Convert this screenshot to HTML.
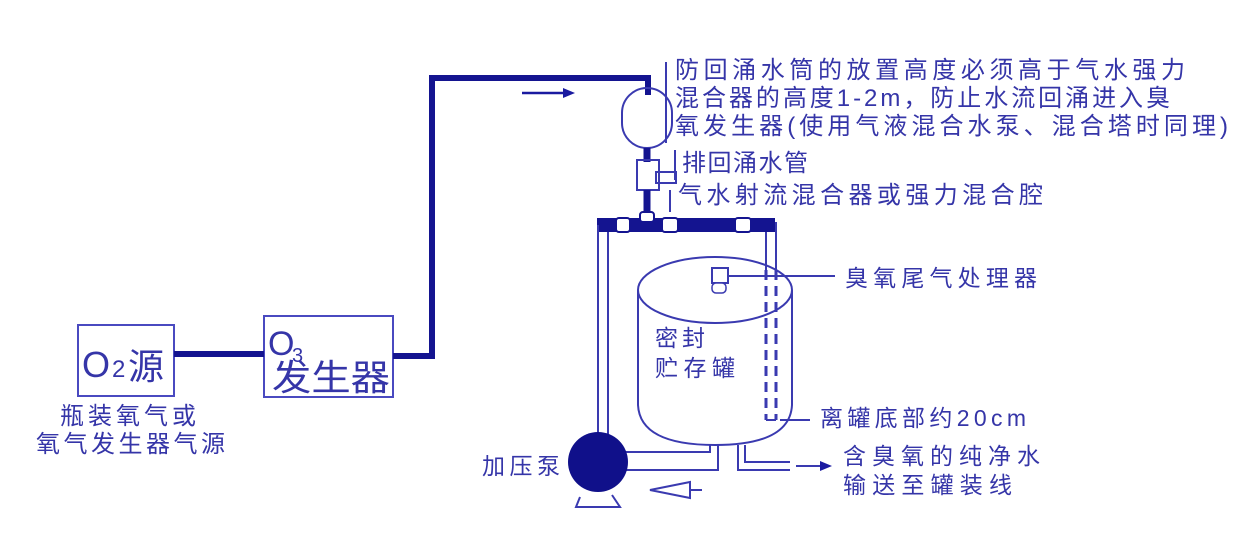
<!DOCTYPE html>
<html><head><meta charset="utf-8"><style>
body{margin:0;background:#fff;}
svg{display:block}
text{font-family:"Liberation Sans","Noto Sans CJK SC",sans-serif;fill:#3535a8;}
</style></head><body>
<svg width="1252" height="539" viewBox="0 0 1252 539" xmlns="http://www.w3.org/2000/svg">
<g fill="none" stroke="#4a4ac0" stroke-width="2">
<rect x="78" y="325" width="96" height="71"/>
<rect x="264" y="316" width="129" height="81"/>
</g>
<g stroke="#141490" stroke-width="6" fill="none">
<line x1="174" y1="354" x2="264" y2="354"/>
<polyline points="393,356 432,356 432,78 648,78 648,95"/>
</g>
<text x="82" y="377" font-size="36">O</text>
<text x="112" y="377" font-size="24">2</text>
<text x="128" y="379" font-size="36">源</text>
<text x="268" y="355" font-size="34">O</text>
<text x="292" y="362" font-size="20">3</text>
<text x="272" y="390" font-size="36" textLength="118" lengthAdjust="spacingAndGlyphs">发生器</text>
<text x="60" y="424" font-size="24" textLength="136" lengthAdjust="spacing">瓶装氧气或</text>
<text x="36" y="452" font-size="24" textLength="189" lengthAdjust="spacing">氧气发生器气源</text>
<line x1="522" y1="93" x2="565" y2="93" stroke="#1a1aa0" stroke-width="2.5"/>
<polygon points="575,93 563,88 563,98" fill="#1a1aa0"/>
<rect x="622" y="88" width="50" height="60" rx="25" ry="25" fill="none" stroke="#3a3ab0" stroke-width="2"/>
<line x1="666" y1="62" x2="666" y2="143" stroke="#3a3ab0" stroke-width="2"/>
<line x1="647" y1="148" x2="647" y2="162" stroke="#141490" stroke-width="7"/>
<rect x="637" y="160" width="22" height="30" fill="none" stroke="#3a3ab0" stroke-width="2"/>
<rect x="656" y="172" width="20" height="11" fill="none" stroke="#3a3ab0" stroke-width="2"/>
<line x1="675" y1="150" x2="675" y2="180" stroke="#3a3ab0" stroke-width="2"/>
<line x1="647" y1="190" x2="647" y2="212" stroke="#141490" stroke-width="7"/>
<line x1="670" y1="190" x2="670" y2="212" stroke="#3a3ab0" stroke-width="2"/>
<rect x="597" y="218" width="178" height="14" fill="#141490"/>
<g fill="#fff" stroke="#141490" stroke-width="2">
<rect x="616" y="218" width="14" height="14" rx="3"/>
<rect x="640" y="212" width="14" height="10" rx="3"/>
<rect x="662" y="218" width="16" height="14" rx="3"/>
<rect x="735" y="218" width="16" height="14" rx="3"/>
</g>
<g stroke="#3a3ab0" stroke-width="2" fill="none">
<line x1="598" y1="225" x2="598" y2="440"/>
<line x1="608" y1="232" x2="608" y2="440"/>
<line x1="766" y1="232" x2="766" y2="270"/>
<line x1="776" y1="222" x2="776" y2="270"/>
<line x1="766" y1="270" x2="766" y2="420" stroke-dasharray="10,6" stroke-width="3"/>
<line x1="776" y1="270" x2="776" y2="420" stroke-dasharray="10,6" stroke-width="3"/>
<polyline points="766,420 776,420"/>
<ellipse cx="715" cy="290" rx="77" ry="33"/>
<path d="M638,290 L638,405 Q640,445 715,445 Q790,445 792,405 L792,290"/>
<rect x="712" y="268" width="16" height="15"/>
<line x1="728" y1="276" x2="835" y2="276"/>
<line x1="780" y1="420" x2="810" y2="420"/>
<polyline points="625,452 710,452 710,445"/>
<polyline points="625,470 718,470 718,445"/>
<polyline points="738,445 738,470 790,470"/>
<polyline points="745,445 745,462 790,462"/>
<polygon points="650,490 690,482 690,498"/>
<line x1="690" y1="490" x2="702" y2="490"/>
<line x1="796" y1="466" x2="822" y2="466"/>
<polyline points="580,497 576,507 620,507 612,495"/>
</g>
<polygon points="832,466 820,461 820,471" fill="#1a1aa0"/>
<circle cx="598" cy="462" r="30" fill="#10108a"/>
<g fill="#fff" stroke="#3a3ab0" stroke-width="1.5"><rect x="712" y="283" width="14" height="10" rx="4"/></g>
<text x="675" y="78" font-size="24" textLength="510" lengthAdjust="spacing">防回涌水筒的放置高度必须高于气水强力</text>
<text x="675" y="106" font-size="24" textLength="495" lengthAdjust="spacing">混合器的高度1-2m，防止水流回涌进入臭</text>
<text x="675" y="134" font-size="24" textLength="553" lengthAdjust="spacing">氧发生器(使用气液混合水泵、混合塔时同理)</text>
<text x="682" y="171" font-size="24" textLength="126" lengthAdjust="spacing">排回涌水管</text>
<text x="678" y="203" font-size="24" textLength="365" lengthAdjust="spacing">气水射流混合器或强力混合腔</text>
<text x="845" y="286" font-size="23" textLength="192" lengthAdjust="spacing">臭氧尾气处理器</text>
<text x="655" y="346" font-size="23" textLength="50" lengthAdjust="spacing">密封</text>
<text x="655" y="376" font-size="23" textLength="80" lengthAdjust="spacing">贮存罐</text>
<text x="820" y="426" font-size="23" textLength="206" lengthAdjust="spacing">离罐底部约20cm</text>
<text x="843" y="464" font-size="23" textLength="197" lengthAdjust="spacing">含臭氧的纯净水</text>
<text x="843" y="493" font-size="23" textLength="169" lengthAdjust="spacing">输送至罐装线</text>
<text x="482" y="474" font-size="23" textLength="78" lengthAdjust="spacing">加压泵</text>
</svg>
</body></html>
